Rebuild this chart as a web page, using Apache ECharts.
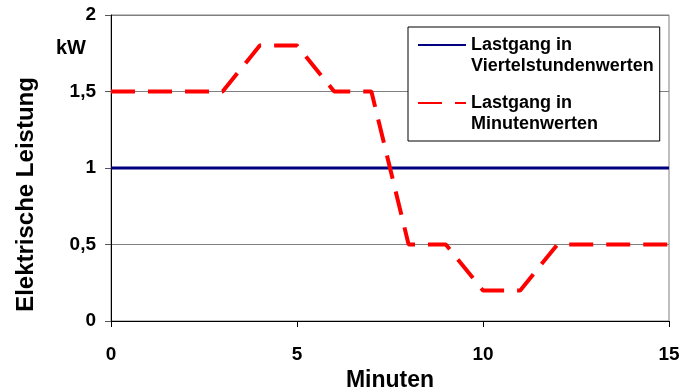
<!DOCTYPE html>
<html>
<head>
<meta charset="utf-8">
<script src="https://cdn.jsdelivr.net/npm/echarts@6/dist/echarts.min.js"></script>
<style>
html,body{margin:0;padding:0;background:#fff;}
#chart{width:682px;height:389px;}
</style>
</head>
<body>
<div id="chart"></div>
<script>
// ---- data ----
const minutes = [0, 1, 2, 3, 4, 5, 6, 7, 8, 9, 10, 11, 12, 13, 14, 15];
const loadQuarterHour = [1, 1, 1, 1, 1, 1, 1, 1, 1, 1, 1, 1, 1, 1, 1, 1];
const loadMinute = [1.5, 1.5, 1.5, 1.5, 1.8, 1.8, 1.5, 1.5, 0.5, 0.5, 0.2, 0.2, 0.5, 0.5, 0.5, 0.5];
const seriesNames = ['Lastgang in\nViertelstundenwerten', 'Lastgang in\nMinutenwerten'];
const yTickLabels = ['0', '0,5', '1', '1,5', '2'];
const xTickLabels = ['0', '5', '10', '15'];
const yAxisTitle = 'Elektrische Leistung';
const yUnit = 'kW';
const xAxisTitle = 'Minuten';

const FONT = '"Liberation Sans", Arial, sans-serif';
const chart = echarts.init(document.getElementById('chart'), null, {renderer: 'canvas'});

const pairs = (xs, ys) => xs.map((x, i) => [x, ys[i]]);

chart.setOption({
  animation: false,
  backgroundColor: '#fff',
  title: {
    text: yUnit,
    left: 56, top: 38,
    padding: 0,
    textStyle: {fontFamily: FONT, fontWeight: 'bold', fontSize: 20, color: '#000'}
  },
  grid: {
    left: 111, right: 13, top: 15, bottom: 68,
    containLabel: false,
    outerBoundsMode: 'none',
    show: true, borderColor: '#808080', borderWidth: 1, backgroundColor: 'transparent'
  },
  legend: {
    orient: 'vertical',
    left: 408, top: 27,
    padding: [9, 6, 8, 9],
    itemGap: 19,
    itemWidth: 48, itemHeight: 14,
    backgroundColor: '#fff',
    borderColor: '#000', borderWidth: 1, borderRadius: 0,
    itemStyle: {opacity: 0},
    data: seriesNames,
    formatter: function (name) {
      return name.split('\n').map(s => '{l|' + s + '}').join('\n');
    },
    textStyle: {
      fontFamily: FONT, fontWeight: 'bold', fontSize: 18, color: '#000',
      padding: [21, 0, 0, 0],
      rich: {l: {fontFamily: FONT, fontWeight: 'bold', fontSize: 18, color: '#000', lineHeight: 21}}
    }
  },
  xAxis: {
    type: 'value', min: 0, max: 15, interval: 5,
    name: xAxisTitle, nameLocation: 'middle', nameGap: 38,
    nameTextStyle: {fontFamily: FONT, fontWeight: 'bold', fontSize: 23, color: '#000'},
    axisLine: {show: true, onZero: false, lineStyle: {color: '#000', width: 1}},
    axisTick: {show: true, inside: false, length: 6, lineStyle: {color: '#000'}},
    splitLine: {show: false},
    axisLabel: {
      margin: 24, color: '#000', fontFamily: FONT, fontWeight: 'bold', fontSize: 19,
      formatter: (v, i) => xTickLabels[i]
    }
  },
  yAxis: {
    type: 'value', min: 0, max: 2, interval: 0.5,
    name: yAxisTitle, nameLocation: 'middle', nameGap: 73, nameRotate: 90,
    nameTextStyle: {fontFamily: FONT, fontWeight: 'bold', fontSize: 24, color: '#000', padding: [0, 53, 0, 0]},
    axisLine: {show: true, lineStyle: {color: '#000', width: 1}},
    axisTick: {show: true, inside: false, length: 6, lineStyle: {color: '#555'}},
    splitLine: {show: true, lineStyle: {color: '#808080', width: 1}},
    axisLabel: {
      margin: 15, color: '#000', fontFamily: FONT, fontWeight: 'bold', fontSize: 19,
      formatter: (v, i) => yTickLabels[i]
    }
  },
  series: [
    {
      name: seriesNames[0], type: 'line',
      data: pairs(minutes, loadQuarterHour),
      symbol: 'none', showSymbol: false,
      lineStyle: {color: '#000080', width: 3, type: 'solid'},
      itemStyle: {color: '#000080'},
      z: 3
    },
    {
      name: seriesNames[1], type: 'line',
      data: pairs(minutes, loadMinute),
      symbol: 'none', showSymbol: false,
      lineStyle: {color: '#ff0000', width: 4, type: [24, 13]},
      itemStyle: {color: '#ff0000'},
      z: 4
    }
  ]
});
</script>
</body>
</html>
